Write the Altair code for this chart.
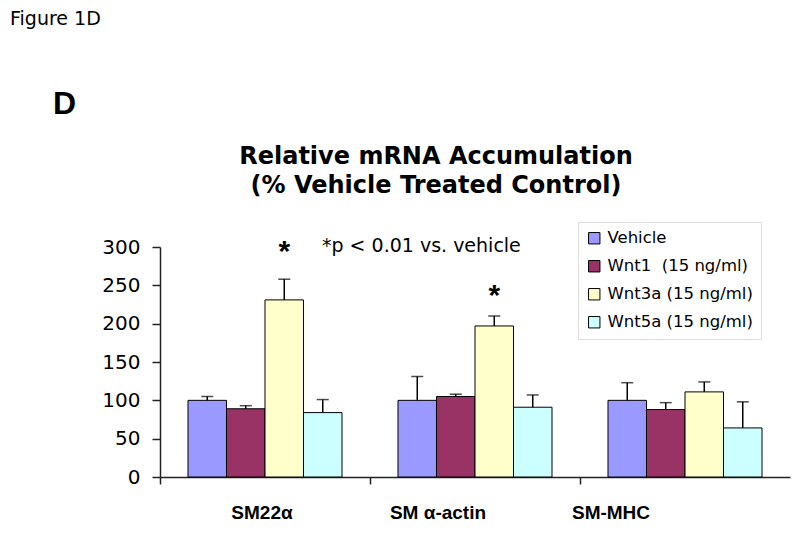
import altair as alt
import pandas as pd

genes = ["SM22α", "SM α-actin", "SM-MHC"]
treatments = ["Vehicle", "Wnt1\u00a0 (15 ng/ml)", "Wnt3a (15 ng/ml)", "Wnt5a (15 ng/ml)"]
colors = ["#9999FF", "#993366", "#FFFFCC", "#CCFFFF"]

vehicle_mean = [100, 100, 100]
vehicle_se = [5, 31, 23]
wnt1_mean = [89, 105, 88]
wnt1_se = [4, 3, 9]
wnt3a_mean = [231, 197, 111]
wnt3a_se = [27, 13, 13]
wnt5a_mean = [84, 91, 64]
wnt5a_se = [17, 16, 34]

star_genes = ["SM22α", "SM α-actin"]
star_treat = ["Wnt3a (15 ng/ml)", "Wnt3a (15 ng/ml)"]
star_y = [297, 240]

y_ticks = [0, 50, 100, 150, 200, 250, 300]

means = [vehicle_mean, wnt1_mean, wnt3a_mean, wnt5a_mean]
ses = [vehicle_se, wnt1_se, wnt3a_se, wnt5a_se]
rows = []
for t, m, s in zip(treatments, means, ses):
    for g, mv, sv in zip(genes, m, s):
        rows.append({"gene": g, "treatment": t, "mean": mv, "upper": mv + sv})
df = pd.DataFrame(rows)
stars = pd.DataFrame({"gene": star_genes, "treatment": star_treat, "y": star_y})

FONT = "DejaVu Sans"
AFONT = "Liberation Sans"

x_axis = alt.Axis(
    title=None, bandPosition=0, tickSize=7, labelAngle=0,
    labelFont=AFONT, labelFontSize=19, labelFontWeight="bold", labelColor="black",
    labelPadding=19, labelOverlap=False, labelFlush=False,
    labelOffset={"condition": [
        {"test": "datum.value === 'SM α-actin'", "value": -37},
        {"test": "datum.value === 'SM-MHC'", "value": -74}],
        "value": -3},
    domainColor="#222222", tickColor="#222222", domainWidth=1.5, tickWidth=1.5,
)
x_scale = alt.Scale(domain=genes, paddingInner=0, paddingOuter=0)
x_enc = alt.X("gene:N", sort=genes, scale=x_scale, axis=x_axis)
xoff = alt.XOffset("treatment:N", sort=treatments,
                   scale=alt.Scale(domain=treatments, paddingInner=0, paddingOuter=0.727))
y_scale = alt.Scale(domain=[0, 300], nice=False)
y_axis = alt.Axis(title=None, values=y_ticks, grid=False,
                  tickSize=8, labelPadding=12, labelFont=FONT, labelFontSize=20,
                  labelColor="black", labelOverlap=False,
                  domainColor="#222222", tickColor="#222222",
                  domainWidth=1.5, tickWidth=1.5)

base = alt.Chart(df)

bars = base.mark_bar(stroke="black", strokeWidth=1).encode(
    x=x_enc, xOffset=xoff,
    y=alt.Y("mean:Q", scale=y_scale, axis=y_axis),
    color=alt.Color("treatment:N", sort=treatments,
                    scale=alt.Scale(domain=treatments, range=colors),
                    legend=alt.Legend(
                        title=None, orient="none", legendX=418, legendY=-25,
                        symbolType="square", symbolSize=130, symbolStrokeColor="black",
                        symbolStrokeWidth=1, labelFont=FONT, labelFontSize=16.5,
                        labelColor="black", labelOffset=5, rowPadding=11, padding=8,
                        strokeColor="#dddddd", fillColor="white")),
)

errs = base.mark_rule(color="black", strokeWidth=1.5).encode(
    x=x_enc, xOffset=xoff, y=alt.Y("mean:Q", scale=y_scale, axis=y_axis), y2="upper:Q")
caps = base.mark_tick(color="black", thickness=1.5, size=12).encode(
    x=x_enc, xOffset=xoff, y=alt.Y("upper:Q", scale=y_scale, axis=y_axis))

star_marks = alt.Chart(stars).mark_text(
    text="*", font=AFONT, fontSize=30, fontWeight="bold", color="black", baseline="middle", dy=3
).encode(x=x_enc, xOffset=xoff, y=alt.Y("y:Q", scale=y_scale, axis=y_axis))

one = pd.DataFrame({"a": [0]})

def note(txt, x, y, size, weight="normal", align="left", font=FONT):
    return alt.Chart(one).mark_text(
        font=font, fontSize=size, fontWeight=weight, color="black",
        align=align, baseline="middle"
    ).encode(text=alt.value(txt), x=alt.value(x), y=alt.value(y))

notes = [
    note("Figure 1D", -150, -228, 19),
    note("D", -107, -143, 32, "bold", font=AFONT),
    note("Relative mRNA Accumulation", 276, -90, 24, "bold", "center"),
    note("(% Vehicle Treated Control)", 276, -61, 24, "bold", "center"),
    note("*p < 0.01 vs. vehicle", 162, -1, 19),
]

chart = alt.layer(bars, errs, caps, star_marks, *notes).properties(
    width=630, height=230,
    autosize=alt.AutoSizeParams(type="none"),
    padding={"left": 152, "top": 239, "right": 2, "bottom": 50},
    background="white",
).configure_view(stroke=None)

chart.save("out.html", embed_options={"renderer": "svg", "actions": False})
